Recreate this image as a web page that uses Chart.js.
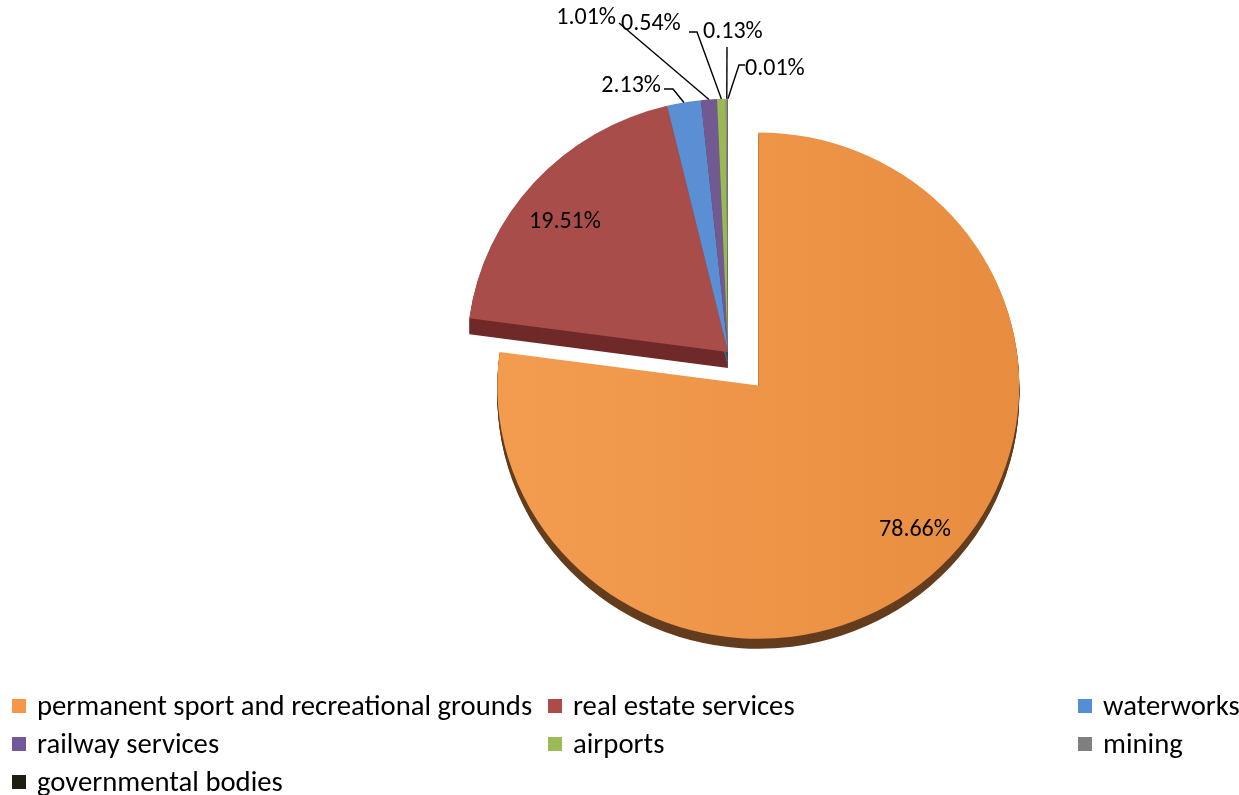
<!DOCTYPE html>
<html>
<head>
<meta charset="utf-8">
<script src="https://cdn.jsdelivr.net/npm/chart.js@4.4.1/dist/chart.umd.min.js"></script>
<style>
  html, body { margin: 0; padding: 0; background: #fff; }
  #wrap { position: relative; width: 1239px; height: 795px; overflow: hidden; }
  #pie { position: absolute; left: 0; top: 0; }
  #legend { position: absolute; left: 0; top: 0; width: 1239px; height: 795px;
            font-family: Carlito, Lato, sans-serif; font-size: 28.7px; color: #000; }
  .item { position: absolute; white-space: nowrap; height: 30px; line-height: 30px; }
  .item i { position: absolute; left: 0; top: 8px; width: 14px; height: 14px; }
  .item span { position: absolute; left: 25px; top: 0; }
</style>
</head>
<body>
<div id="wrap">
  <canvas id="pie" width="1239" height="795"></canvas>
  <div id="legend"></div>
</div>
<script>
// land use categories and their share (%)
const categories = [
  'permanent sport and recreational grounds',
  'real estate services',
  'waterworks',
  'railway services',
  'airports',
  'mining',
  'governmental bodies'
];
const shares = [78.66, 19.51, 2.13, 1.01, 0.54, 0.13, 0.01];
const shareLabels = shares.map(v => v.toFixed(2) + '%');

// colours
const faceColors   = ['#EE9448', '#A84D4A', '#5A8FD3', '#72598F', '#98B954', '#8C8C8C', '#1D1B10'];
const sideColors   = ['#643D1E', '#6F2A29', '#3A6399', '#4E3C64', '#6A823A', '#5E5E5E', '#0E0D08'];
const legendColors = ['#F79646', '#AC4B48', '#558ED5', '#71589A', '#9BBB59', '#7F7F7F', '#1F1C11'];

// look of the tilted pie
const SQUASH = 0.97;          // vertical squash of the disc
const sideDepth = [10, 16, 16, 16, 16, 16, 16];
const pullOut = [46, 0, 0, 0, 0, 0, 0];   // px a slice is pulled away from the centre

// where the value labels sit; callouts get a leader line to the slice edge
const labelSpots = [
  { x: 915, y: 530, align: 'center' },
  { x: 565, y: 222, align: 'center' },
  { x: 661, y: 86, align: 'right', line: [[664, 89], [673, 89]] },
  { x: 616, y: 18, align: 'right', line: [[619, 23]] },
  { x: 621, y: 24, align: 'left',  line: [[689, 32], [697, 32]] },
  { x: 703, y: 32, align: 'left',  line: [[727, 47]] },
  { x: 745, y: 69, align: 'left',  line: [[745, 65], [739, 65]] }
];

const FONT = '24px Carlito, Lato, sans-serif';

function centerY(chart) {
  const a = chart.chartArea;
  return (a.top + a.bottom) / 2;
}

const tiltPie = {
  id: 'tiltPie',
  afterDatasetsUpdate(chart) {
    // move exploded slices outward along their middle angle, keeping straight radial edges
    const arcs = chart.getDatasetMeta(0).data;
    arcs.forEach((el, i) => {
      const d = pullOut[i] || 0;
      if (!d) return;
      const a = (el.startAngle + el.endAngle) / 2;
      el.x += Math.cos(a) * d;
      el.y += Math.sin(a) * d;
    });
  },
  beforeDatasetsDraw(chart) {
    const ctx = chart.ctx;
    const cy = centerY(chart);
    ctx.save();
    ctx.translate(0, cy);
    ctx.scale(1, SQUASH);
    ctx.translate(0, -cy);
    // side walls: darker copies of each slice pushed downward
    const arcs = chart.getDatasetMeta(0).data;
    arcs.forEach((el, i) => {
      const ghost = Object.create(el);
      ghost.options = Object.assign({}, el.options, { backgroundColor: sideColors[i], borderWidth: 0 });
      for (let k = sideDepth[i]; k >= 1; k--) {
        ctx.save();
        ctx.translate(0, k / SQUASH);
        ghost.draw(ctx);
        ctx.restore();
      }
    });
  },
  afterDatasetsDraw(chart) {
    const ctx = chart.ctx;
    ctx.restore();
    const cy = centerY(chart);
    const arcs = chart.getDatasetMeta(0).data;
    ctx.save();
    ctx.font = FONT;
    ctx.fillStyle = '#000';
    ctx.strokeStyle = '#000';
    ctx.lineWidth = 1.4;
    ctx.textBaseline = 'middle';
    arcs.forEach((el, i) => {
      const spot = labelSpots[i];
      if (spot.line) {
        const a = (el.startAngle + el.endAngle) / 2;
        const px = el.x + Math.cos(a) * el.outerRadius;
        const py = cy + (el.y + Math.sin(a) * el.outerRadius - cy) * SQUASH;
        ctx.beginPath();
        ctx.moveTo(spot.line[0][0], spot.line[0][1]);
        spot.line.slice(1).forEach(p => ctx.lineTo(p[0], p[1]));
        ctx.lineTo(px, py);
        ctx.stroke();
      }
      ctx.textAlign = spot.align;
      ctx.fillText(shareLabels[i], spot.x, spot.y);
    });
    ctx.restore();
  }
};

new Chart(document.getElementById('pie'), {
  type: 'pie',
  data: {
    labels: categories,
    datasets: [{
      data: shares,
      radius: 261,
      borderWidth: 0,
      backgroundColor: c => {
        if (c.dataIndex === 0) {
          const g = c.chart.ctx.createLinearGradient(497, 0, 1020, 0);
          g.addColorStop(0, '#F39C50');
          g.addColorStop(1, '#E88D40');
          return g;
        }
        return faceColors[c.dataIndex];
      }
    }]
  },
  options: {
    responsive: false,
    animation: false,
    layout: { padding: { left: 217, right: 0, top: 0, bottom: 91 } },
    plugins: {
      legend: { display: false },
      tooltip: { enabled: false }
    }
  },
  plugins: [tiltPie]
});

// legend laid out in three columns
const legendCols = [12, 548, 1078];
const legendRows = [706, 744, 782];
const legendBox = document.getElementById('legend');
categories.forEach((name, i) => {
  const item = document.createElement('div');
  item.className = 'item';
  item.style.left = legendCols[i % 3] + 'px';
  item.style.top = (legendRows[Math.floor(i / 3)] - 15) + 'px';
  item.innerHTML = '<i style="background:' + legendColors[i] + '"></i><span>' + name + '</span>';
  legendBox.appendChild(item);
});
</script>
</body>
</html>
